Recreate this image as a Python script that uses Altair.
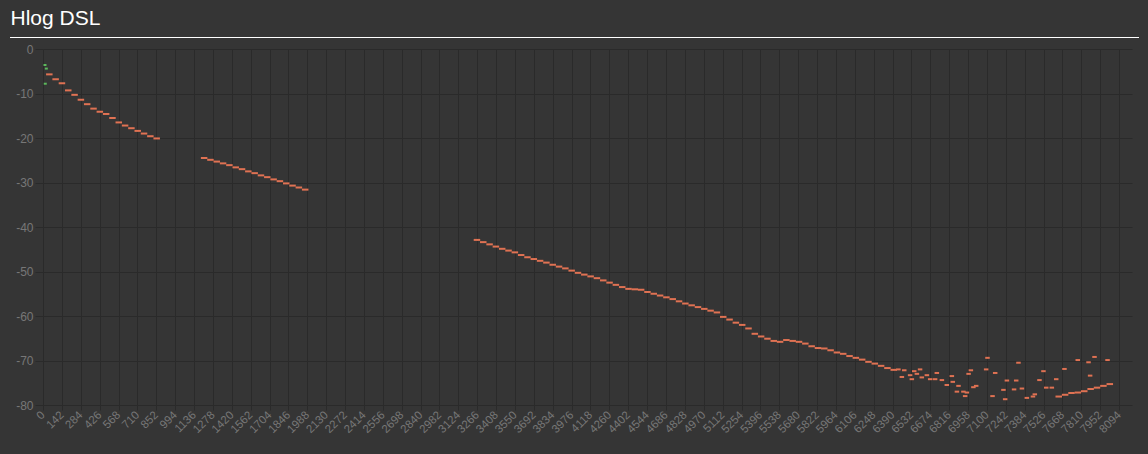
import altair as alt
import pandas as pd
import jinja2

TITLE = "Hlog DSL"

# axis ticks
x_ticks = list(range(0, 8095, 142))
y_ticks = [0, -10, -20, -30, -40, -50, -60, -70, -80]

# green points near the start
green_tones = [15, 25, 17]
green_vals = [-3.6, -4.4, -7.8]

# main line segments (tone start, tone step)
seg1_start, seg_step = 47.5, 47.5
seg1_vals = [-5.7, -6.8, -7.7, -9.3, -10.3, -11.4, -12.4, -13.4, -14.1, -14.6,
             -15.5, -16.5, -17.2, -17.8, -18.4, -19.0, -19.6, -20.1]

seg2_start = 1212
seg2_vals = [-24.5, -24.9, -25.3, -25.7, -26.1, -26.6, -27.0, -27.5, -27.9,
             -28.4, -28.8, -29.3, -29.7, -30.2, -30.7, -31.1, -31.6]

seg3_start = 3264
seg3_vals = [-42.9, -43.4, -43.9, -44.4, -44.9, -45.3, -45.7, -46.3, -46.8, -47.2,
             -47.6, -48.0, -48.5, -48.9, -49.3, -49.8, -50.3, -50.7, -51.1, -51.5,
             -52.0, -52.5, -53.0, -53.5, -53.9, -54.0, -54.1, -54.6, -55.0, -55.4,
             -55.8, -56.2, -56.7, -57.2, -57.6, -58.0, -58.4, -58.8, -59.2, -60.2,
             -60.8, -61.5, -62.0, -62.8, -64.0, -64.6, -65.1, -65.6, -65.8, -65.4,
             -65.6, -65.8, -66.2, -66.8, -67.2, -67.3, -67.7, -68.2, -68.5, -69.0,
             -69.4, -69.8, -70.3, -70.7, -71.2, -71.7, -72.1]

rise_tones = [7640, 7688, 7736, 7784, 7832, 7880, 7928, 7976, 8024]
rise_vals = [-78.1, -77.7, -77.3, -77.2, -76.9, -76.4, -76.1, -75.7, -75.3]

# scattered points at the high end
scat_tones = [6434, 6460, 6478, 6522, 6535, 6553, 6573, 6597, 6610, 6648, 6673,
              6710, 6723, 6761, 6798, 6836, 6843, 6874, 6886, 6923, 6936, 6949,
              6962, 6979, 6998, 7019, 7094, 7104, 7142, 7162, 7224, 7237, 7250,
              7304, 7320, 7337, 7363, 7400, 7446, 7460, 7495, 7525, 7546, 7588,
              7621, 7683, 7783, 7864, 7876, 7909, 8007]
scat_vals = [-72.0, -73.7, -72.2, -73.3, -74.2, -72.4, -73.0, -72.0, -73.8, -73.3,
             -74.2, -74.2, -72.8, -74.4, -75.5, -73.5, -74.8, -77.0, -75.7, -77.0,
             -78.0, -77.2, -73.0, -72.2, -76.0, -75.7, -72.0, -69.4, -78.0, -72.8,
             -76.6, -78.7, -74.5, -76.5, -74.5, -70.5, -76.3, -78.4, -78.1, -77.6,
             -74.4, -72.4, -76.1, -76.1, -74.2, -71.9, -69.9, -70.4, -73.4, -69.2,
             -69.9]

BG = "#353535"
GRID = "#2a2a2a"
ORANGE = "#e07253"
GREEN = "#5cb85c"
LABEL = "#777777"
FONT = "Liberation Sans"

line_t, line_v = [], []
for start, vals in [(seg1_start, seg1_vals), (seg2_start, seg2_vals), (seg3_start, seg3_vals)]:
    for i, v in enumerate(vals):
        line_t.append(start + seg_step * i)
        line_v.append(v)
line_t += rise_tones
line_v += rise_vals

line_df = pd.DataFrame({"tone": line_t, "hlog": line_v})
scat_df = pd.DataFrame({"tone": scat_tones, "hlog": scat_vals})
green_df = pd.DataFrame({"tone": green_tones, "hlog": green_vals})

W, H = 1089, 356

x_enc = alt.X("tone:Q", scale=alt.Scale(domain=[0, 8191], nice=False, zero=False),
              axis=alt.Axis(values=x_ticks, tickCount=len(x_ticks), labelAngle=-45,
                            labelAlign="right", labelBaseline="middle",
                            labelExpr="'' + datum.value",
                            labelColor=LABEL, labelFontSize=11.5,
                            labelFont=FONT, grid=True, gridColor=GRID, tickColor=GRID,
                            tickSize=5, domain=False, labelPadding=3, title=None,
                            labelOverlap=False))
y_enc = alt.Y("hlog:Q", scale=alt.Scale(domain=[-80, 0], nice=False),
              axis=alt.Axis(values=y_ticks, tickCount=len(y_ticks),
                            labelExpr="'' + datum.value",
                            labelColor=LABEL, labelFontSize=12,
                            labelFont=FONT, grid=True, gridColor=GRID, tickColor=GRID,
                            tickSize=8, domain=False, labelPadding=2, title=None))

line_layer = alt.Chart(line_df).mark_tick(orient="horizontal", size=6.5, thickness=2,
                                          color=ORANGE, opacity=1).encode(x=x_enc, y=y_enc)
scat_layer = alt.Chart(scat_df).mark_tick(orient="horizontal", size=4.5, thickness=2,
                                          color=ORANGE, opacity=1).encode(x="tone:Q", y="hlog:Q")
green_layer = alt.Chart(green_df).mark_tick(orient="horizontal", size=3, thickness=2,
                                            color=GREEN, opacity=1).encode(x="tone:Q", y="hlog:Q")

title_layer = alt.Chart(pd.DataFrame({"t": [TITLE]})).mark_text(
    align="left", baseline="alphabetic", fontSize=21, font=FONT, color="#ffffff"
).encode(text="t:N", x=alt.value(-32.5), y=alt.value(-24))

rule_layer = alt.Chart(pd.DataFrame({"a": [0]})).mark_rule(color="#ffffff", strokeWidth=1).encode(
    x=alt.value(-33), x2=alt.value(1096), y=alt.value(-11.5))

chart = alt.layer(line_layer, scat_layer, green_layer, title_layer, rule_layer).properties(
    width=W, height=H,
    autosize=alt.AutoSizeParams(type="none"),
    padding={"left": 43, "top": 49, "right": 16, "bottom": 49},
    background=BG,
).configure_view(stroke=None)

PAGE = jinja2.Template("""<!DOCTYPE html>
<html>
<head>
<meta charset="utf-8">
<style>body{background:#353535;margin:0;} #{{ output_div }}.vega-embed{width:100%;display:flex;}</style>
<script type="text/javascript" src="{{ base_url }}/vega@{{ vega_version }}"></script>
<script type="text/javascript" src="{{ base_url }}/vega-lite@{{ vegalite_version }}"></script>
<script type="text/javascript" src="{{ base_url }}/vega-embed@{{ vegaembed_version }}"></script>
</head>
<body>
<div id="{{ output_div }}"></div>
<script>
  (function(vegaEmbed) {
    var spec = {{ spec }};
    var embedOpt = {{ embed_options }};
    vegaEmbed("#{{ output_div }}", spec, embedOpt).catch(function(e){
      document.getElementById("{{ output_div }}").innerText = String(e);
    });
  })(vegaEmbed);
</script>
</body>
</html>""")

try:
    chart.save("out.html", embed_options={"renderer": "svg", "actions": False}, template=PAGE)
except Exception:
    chart.save("out.html", embed_options={"renderer": "svg", "actions": False})
